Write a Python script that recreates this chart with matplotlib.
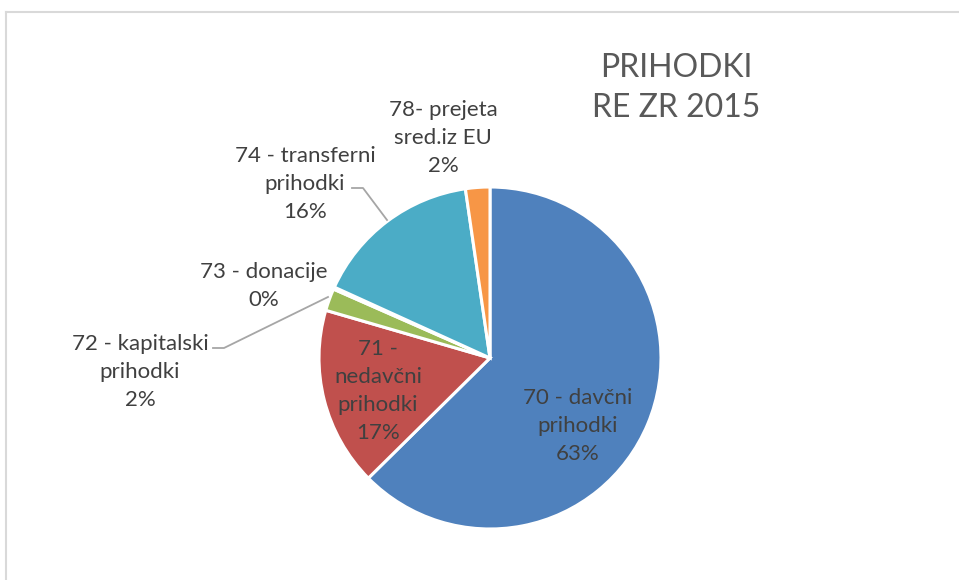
import matplotlib
matplotlib.use("Agg")
import matplotlib.pyplot as plt
from matplotlib.lines import Line2D

# ---- data ----
categories = ["70 - davčni\nprihodki", "71 -\nnedavčni\nprihodki", "72 - kapitalski\nprihodki",
              "73 - donacije", "74 - transferni\nprihodki", "78- prejeta\nsred.iz EU"]
shares = [62.6, 16.9, 2.1, 0.2, 15.9, 2.3]
colors = ["#4F81BD", "#C0504D", "#9BBB59", "#8064A2", "#4BACC6", "#F79646"]
title_text = "PRIHODKI\nRE ZR 2015"

# ---- layout (pixel coords, y measured from top) ----
W, H = 959, 580
pie_center = (490, 358)
pie_radius = 171
label_pos = [(578, 426), (378, 391), (140, 372), (264, 286), (305, 184), (443, 138)]
leaders = {2: [(213, 348), (224, 348), (328, 297)],
           4: [(352, 188), (363, 188), (387, 220)]}

fig = plt.figure(figsize=(W / 100, H / 100), dpi=100)
ax = fig.add_axes([0, 0, 1, 1])

def Y(y):
    return H - y

total = sum(shares)
ax.pie(shares, colors=colors, startangle=90, counterclock=False,
       center=(pie_center[0], Y(pie_center[1])), radius=pie_radius,
       wedgeprops=dict(edgecolor="white", linewidth=2.2), frame=True)
ax.set_xlim(0, W)
ax.set_ylim(0, H)
ax.set_aspect("equal")
ax.axis("off")

txt_color = "#404040"
for i, (cat, v) in enumerate(zip(categories, shares)):
    pct = round(v / total * 100)
    x, y = label_pos[i]
    ax.text(x, Y(y), f"{cat}\n{pct}%", ha="center", va="center", fontsize=16,
            family="Lato", color=txt_color, linespacing=1.5)

for i, pts in leaders.items():
    ax.add_line(Line2D([p[0] for p in pts], [Y(p[1]) for p in pts],
                       color="#A6A6A6", linewidth=1.3))

ax.text(676, Y(88), title_text, ha="center", va="center", fontsize=23,
        family="Lato", color="#595959", linespacing=1.4)

# chart border
ax.add_line(Line2D([6, 6], [0, Y(12)], color="#D9D9D9", linewidth=1.5))
ax.add_line(Line2D([6, W], [Y(12), Y(12)], color="#D9D9D9", linewidth=1.5))

fig.savefig("out.png", dpi=100)
